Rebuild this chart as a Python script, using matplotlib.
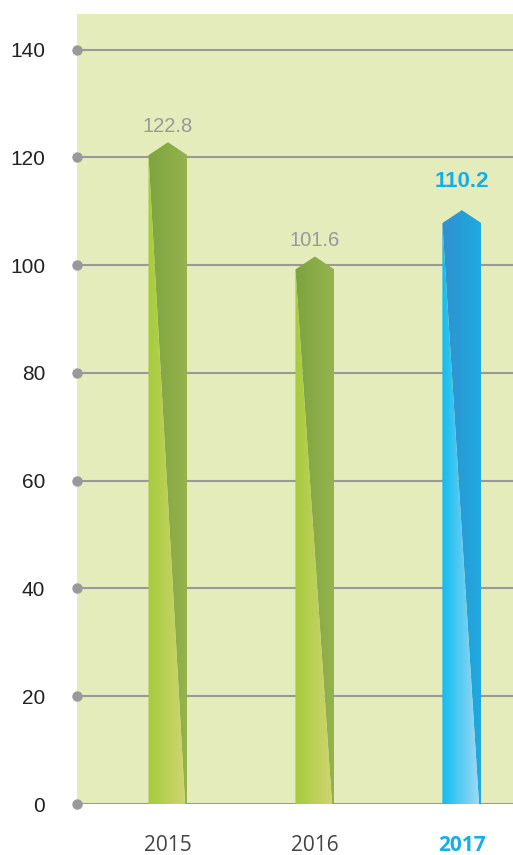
import numpy as np
import matplotlib.pyplot as plt
from matplotlib.patches import Polygon
from matplotlib.colors import LinearSegmentedColormap

years = ['2015', '2016', '2017']
values = [122.8, 101.6, 110.2]
value_labels = ['122.8', '101.6', '110.2']
yticks = [0, 20, 40, 60, 80, 100, 120, 140]

# (light part left, light right, dark part left, dark right)
bar_colors = [
    ('#a6cb3c', '#d0d573', '#7da43f', '#95b24e'),
    ('#a6cb3c', '#d0d573', '#7da43f', '#95b24e'),
    ('#0fbdf0', '#a6daf5', '#3190cf', '#1faadf'),
]
highlight = '#17ade6'
bg = '#e4ecbb'
grid_col = '#999999'

fig = plt.figure(figsize=(5.13, 8.55), dpi=100)
ax = fig.add_axes([77 / 513, 51 / 855, 436 / 513, 790 / 855])
ax.set_facecolor(bg)
ax.set_xlim(-0.619, 2.348)
ax.set_ylim(0, 146.6)

for t in yticks:
    lw = 2.2 if t == 0 else 1.5
    ax.axhline(t, color=grid_col, lw=lw, zorder=1)
    ax.plot([-0.619], [t], 'o', color=grid_col, ms=6.5, clip_on=False, zorder=3)

w = 0.265
tip = 2.4
for i, v in enumerate(values):
    l, r = i - w / 2, i + w / 2
    sh = v - tip
    cl1, cl2, cd1, cd2 = bar_colors[i]
    # diagonal from upper-left shoulder to near bottom-right
    dx = r - 0.06 * w
    dark = Polygon([(l, sh), (i, v), (r, sh), (r, 0), (dx, 0)], closed=True,
                   facecolor='none', edgecolor='none')
    light = Polygon([(l, sh), (dx, 0), (l, 0)], closed=True,
                    facecolor='none', edgecolor='none')
    for poly, c1, c2 in [(dark, cd1, cd2), (light, cl1, cl2)]:
        ax.add_patch(poly)
        cmap = LinearSegmentedColormap.from_list('g', [c1, c2])
        im = ax.imshow(np.linspace(0, 1, 64).reshape(1, -1), cmap=cmap,
                       extent=[l, r, 0, v], aspect='auto', zorder=2,
                       interpolation='bilinear')
        im.set_clip_path(poly)
    if i == 2:
        ax.text(i, v + 3.4, value_labels[i], ha='center', va='bottom',
                fontsize=16, fontweight='bold', color=highlight,
                family='Liberation Sans')
    else:
        ax.text(i, v + 1.2, value_labels[i], ha='center', va='bottom',
                fontsize=14.5, color='#999999', family='Liberation Sans')

ax.set_xlim(-0.619, 2.348)
ax.set_ylim(0, 146.6)
ax.set_yticks(yticks)
ax.set_yticklabels([str(t) for t in yticks], family='Liberation Sans',
                   fontsize=15, color='#222222')
ax.tick_params(axis='y', length=0, pad=23)
ax.set_xticks(range(len(years)))
ax.set_xticklabels(years, family='Open Sans', fontsize=15, color='#444444')
ax.tick_params(axis='x', length=0, pad=22)
xl = ax.get_xticklabels()[2]
xl.set_color(highlight)
xl.set_fontweight('bold')
for s in ax.spines.values():
    s.set_visible(False)

fig.savefig('out.png', dpi=100)
